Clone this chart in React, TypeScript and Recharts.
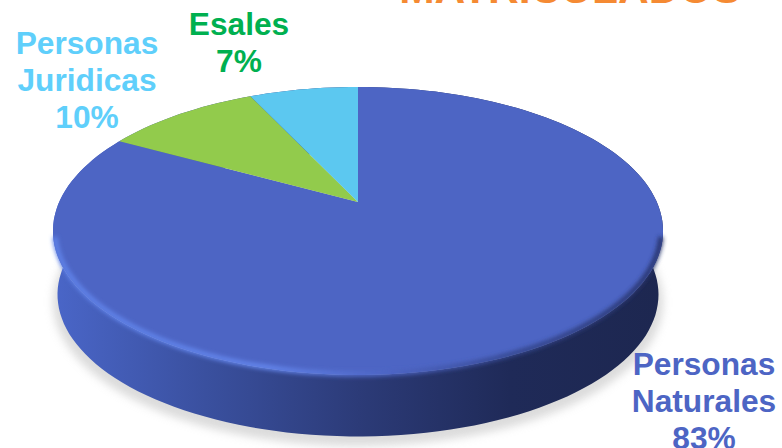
import { Pie, PieChart } from "recharts";

const categories = ["Personas Naturales", "Personas Juridicas", "Esales"];
const shares = [83, 10, 7];
const sliceColors = ["#4D65C4", "#92CB4C", "#5CC8F0"];
const labelColors = ["#4D65C4", "#5FCFFB", "#00B050"];
const labelLines = [
  ["Personas", "Naturales", "83%"],
  ["Personas", "Juridicas", "10%"],
  ["Esales", "7%"],
];
const labelAnchors = [
  { x: 704, y: 375 },
  { x: 87, y: 54 },
  { x: 239, y: 35 },
];

const data = categories.map((name, i) => ({
  name,
  value: shares[i],
  fill: sliceColors[i],
}));

const CX = 358;
const CY = 202;
const RAD = Math.PI / 180;

// tilted disc: unit circle through a perspective projection
const project = (deg: number, drop = 0, shrink = 1) => {
  const t = (90 - deg) * RAD;
  const u = Math.sin(t);
  const v = -Math.cos(t);
  const w = 1 - 0.2013 * v;
  return [CX + (298.8 * shrink * u) / w, CY + drop + (138.2 * shrink * v) / w];
};

const arcPoints = (from: number, to: number, drop = 0, shrink = 1) => {
  const steps = Math.max(2, Math.ceil(Math.abs(to - from) / 2));
  const pts = [];
  for (let i = 0; i <= steps; i++) {
    pts.push(project(from + ((to - from) * i) / steps, drop, shrink));
  }
  return pts;
};

const toPath = (pts: number[][]) =>
  pts.map((p, i) => `${i ? "L" : "M"}${p[0].toFixed(1)},${p[1].toFixed(1)}`).join(" ");

const FaceSlice = (props: any) => (
  <path
    d={`${toPath(arcPoints(props.startAngle, props.endAngle))} L${CX},${CY} Z`}
    fill={props.fill}
  />
);

const WallSlice = (props: any) => {
  const top = arcPoints(props.startAngle, props.endAngle);
  const bottom = arcPoints(props.endAngle, props.startAngle, 64, 0.985);
  return <path d={`${toPath(top)} ${toPath(bottom).replace("M", "L")} Z`} fill="url(#wall)" />;
};

const ShadowSlice = (props: any) => {
  const bottom = arcPoints(props.startAngle, props.endAngle, 71, 1);
  return <path d={`${toPath(bottom)} L${CX},${CY + 60} Z`} fill="#c4c4c4" opacity={0.6} filter="url(#soft)" />;
};

// bevel along the front rim of the top face, drawn on top of the slices
const BevelSlice = (props: any) => {
  const pts = arcPoints(props.startAngle, props.endAngle, 0, 0.994);
  return <path d={toPath(pts)} fill="none" stroke="url(#bevel)" strokeWidth={5} filter="url(#softer)" />;
};

const renderLabel = (props: any) => {
  const i = props.index;
  const a = labelAnchors[i];
  return (
    <text
      key={i}
      x={a.x}
      y={a.y}
      textAnchor="middle"
      fill={labelColors[i]}
      fontFamily="Liberation Sans"
      fontWeight="bold"
      fontSize={31.7}
    >
      {labelLines[i].map((line, j) => (
        <tspan key={j} x={a.x} dy={j ? 37 : 0}>
          {line}
        </tspan>
      ))}
    </text>
  );
};

export default function App() {
  return (
    <div style={{ position: "absolute", left: 0, top: 0, background: "#fff" }}>
      <PieChart width={782} height={448} margin={{ top: 0, right: 0, bottom: 0, left: 0 }}>
        <defs>
          <linearGradient id="wall" gradientUnits="userSpaceOnUse" x1="53" y1="0" x2="663" y2="0">
            <stop offset="0" stopColor="#4A66C8" />
            <stop offset="0.25" stopColor="#3A509F" />
            <stop offset="0.5" stopColor="#2C3B78" />
            <stop offset="0.75" stopColor="#1F2A58" />
            <stop offset="1" stopColor="#1D2750" />
          </linearGradient>
          <linearGradient id="bevel" gradientUnits="userSpaceOnUse" x1="53" y1="0" x2="663" y2="0">
            <stop offset="0" stopColor="#5F82E8" />
            <stop offset="0.35" stopColor="#6486EC" />
            <stop offset="0.55" stopColor="#4D65C4" />
            <stop offset="0.75" stopColor="#35478F" />
            <stop offset="1" stopColor="#27336B" />
          </linearGradient>
          <filter id="soft" x="-10%" y="-10%" width="120%" height="120%">
            <feGaussianBlur stdDeviation="4" />
          </filter>
          <filter id="softer" x="-10%" y="-10%" width="120%" height="120%">
            <feGaussianBlur stdDeviation="2.2" />
          </filter>
        </defs>
        <text
          x={570}
          y={3}
          textAnchor="middle"
          fill="#F58A33"
          fontFamily="Liberation Sans"
          fontWeight="bold"
          fontSize={42.5}
        >
          MATRICULADOS
        </text>
        <Pie
          data={data}
          dataKey="value"
          cx={CX}
          cy={CY}
          outerRadius={300}
          startAngle={90}
          endAngle={-270}
          stroke="none"
          isAnimationActive={false}
          shape={ShadowSlice}
        />
        <Pie
          data={data}
          dataKey="value"
          cx={CX}
          cy={CY}
          outerRadius={300}
          startAngle={90}
          endAngle={-270}
          stroke="none"
          isAnimationActive={false}
          shape={WallSlice}
        />
        <Pie
          data={data}
          dataKey="value"
          cx={CX}
          cy={CY}
          outerRadius={300}
          startAngle={90}
          endAngle={-270}
          stroke="none"
          isAnimationActive={false}
          shape={FaceSlice}
          label={renderLabel}
          labelLine={false}
        />
        <Pie
          data={data.slice(0, 1)}
          dataKey="value"
          cx={CX}
          cy={CY}
          outerRadius={300}
          startAngle={-14}
          endAngle={-166}
          stroke="none"
          isAnimationActive={false}
          shape={BevelSlice}
        />
      </PieChart>
    </div>
  );
}
